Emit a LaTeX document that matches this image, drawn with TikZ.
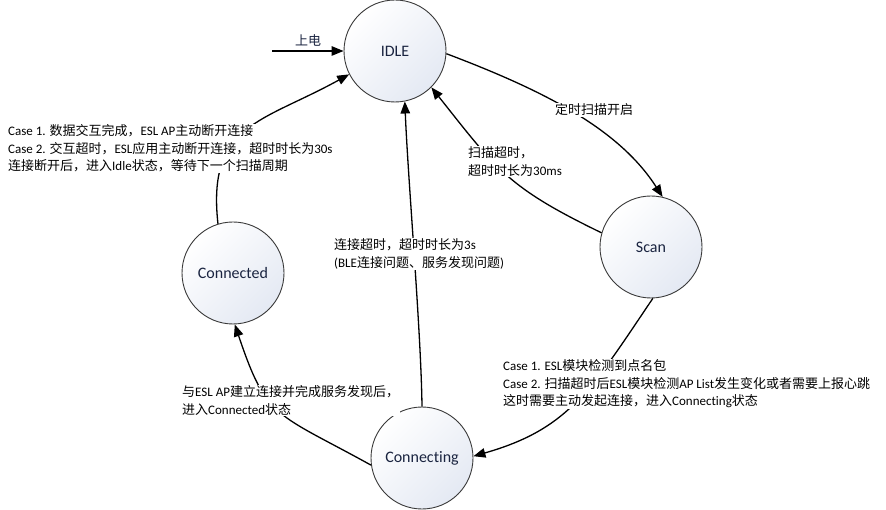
\documentclass[tikz,border=0pt]{standalone}
\usepackage{fontspec}
\setmainfont{Carlito}[Ligatures=NoCommon]
\newfontfamily\cjk{Noto Sans CJK SC}
\newcommand\zhtxt[1]{{\cjk #1}}
\usetikzlibrary{arrows.meta}
\definecolor{stnavy}{HTML}{1A2440}
\definecolor{circfill}{HTML}{E4E9F3}
\definecolor{circline}{HTML}{3A3A3A}
\begin{document}
\begin{tikzpicture}[x=1pt,y=-1pt,
  state/.style={circle, draw=circline, line width=0.9pt, minimum size=102pt, inner sep=0pt,
    top color=white, bottom color=circfill, shading angle=45, text=stnavy,
    font=\fontsize{16}{19}\selectfont},
  conn/.style={draw=black, line width=1.3pt, -{Triangle[length=12pt,width=9.5pt]}},
  lab/.style={fill=white, inner sep=1pt, align=left, text=black,
    font=\fontsize{13}{17.5}\selectfont},
]
\useasboundingbox (0,0) rectangle (886,510);
\node[state] (idle) at (395,51) {IDLE};
\node[state] (scan) at (651,247) {Scan};
\node[state] (connected) at (233,273) {Connected};
\node[state] (connecting) at (422,458) {Connecting};
\coordinate (pwr) at (272,51);

\draw[conn] (pwr) -- (idle.west);
\draw[conn] (idle.-3) .. controls (545,91) and (619,129) .. (scan.77);
\draw[conn] (scan.164) .. controls (507,187) and (497,170) .. (idle.-45);
\draw[conn] (scan.-88) .. controls (591,390) and (569,429) .. (connecting.2);
\draw[conn] (connecting.90) .. controls (421,330) and (408,180) .. (idle.-79);
\draw[conn] (connecting.188) .. controls (275,412) and (267,420) .. (connected.-88);
\draw[conn] (connected.107) .. controls (207,124) and (261,123) .. (idle.207);

\node[text=stnavy, font=\fontsize{13}{16}\selectfont] (lpwr) at (308,40) {\zhtxt{上电}};
\node[lab, anchor=west] (lcd) at (7,148.5) {Case 1. \zhtxt{数据交互完成，}ESL AP\zhtxt{主动断开连接}\\
  Case 2. \zhtxt{交互超时，}ESL\zhtxt{应用主动断开连接，超时时长为}30s\\
  \zhtxt{连接断开后，进入}Idle\zhtxt{状态，等待下一个扫描周期}};
\node[lab] (lis) at (594,110) {\zhtxt{定时扫描开启}};
\node[lab, anchor=west] (lsi) at (467,161.5) {\zhtxt{扫描超时，}\\\zhtxt{超时时长为}30ms};
\node[lab, anchor=west] (lsc) at (502,384) {Case 1. ESL\zhtxt{模块检测到点名包}\\
  Case 2. \zhtxt{扫描超时后}ESL\zhtxt{模块检测}AP List\zhtxt{发生变化或者需要上报心跳}\\
  \zhtxt{这时需要主动发起连接，进入}Connecting\zhtxt{状态}};
\node[lab, anchor=west] (lci) at (333,254) {\zhtxt{连接超时，超时时长为}3s\\(BLE\zhtxt{连接问题、服务发现问题})};
\node[lab, anchor=west] (lcc) at (181,400.5) {\zhtxt{与}ESL AP\zhtxt{建立连接并完成服务发现后，}\\\zhtxt{进入}Connected\zhtxt{状态}};
\end{tikzpicture}
\end{document}
